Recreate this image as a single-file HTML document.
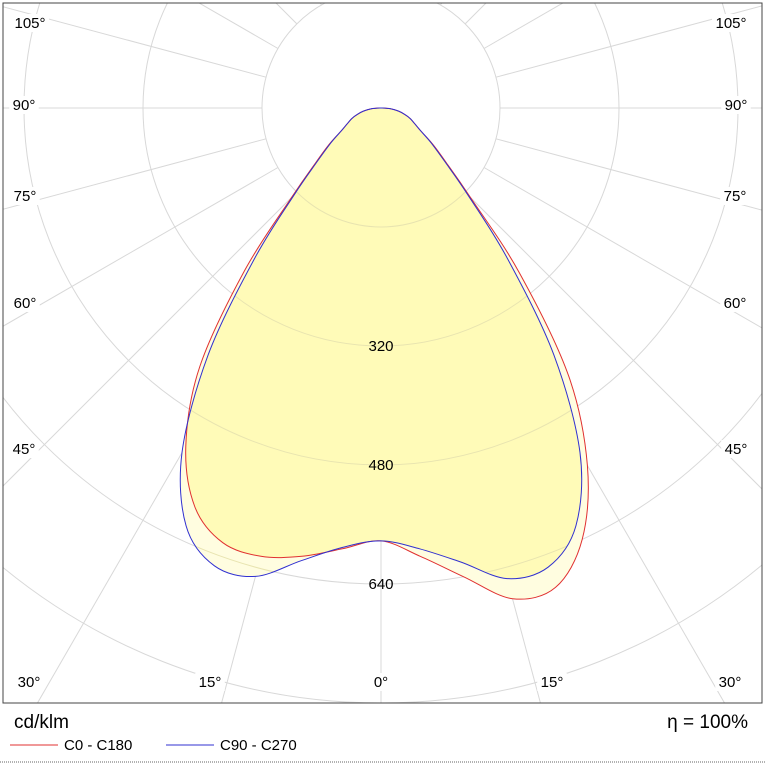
<!DOCTYPE html>
<html><head><meta charset="utf-8"><style>
html,body{margin:0;padding:0;background:#fff;width:765px;height:765px;overflow:hidden}
svg{display:block;font-family:"Liberation Sans",sans-serif}
</style></head><body>
<svg id="chart" width="765" height="765" viewBox="0 0 765 765">
<defs><clipPath id="frameClip"><rect x="3" y="3" width="759" height="700"/></clipPath></defs>
<g id="grid" clip-path="url(#frameClip)"></g>
<g id="fills" clip-path="url(#frameClip)"></g>
<g id="lines" clip-path="url(#frameClip)"></g>
<g id="labels"></g>
<rect x="3" y="3" width="759" height="700" fill="none" stroke="#444" stroke-width="1"/>
<text x="14" y="728" font-size="19" fill="#000">cd/klm</text>
<text x="748" y="728" font-size="19" fill="#000" text-anchor="end">η = 100%</text>
<line x1="10" y1="745" x2="58" y2="745" stroke="#e03030" stroke-width="1"/>
<text x="64" y="750" font-size="15">C0 - C180</text>
<line x1="166" y1="745" x2="214" y2="745" stroke="#3030d0" stroke-width="1"/>
<text x="220" y="750" font-size="15">C90 - C270</text>
<line x1="0" y1="762" x2="765" y2="762" stroke="#666" stroke-width="1" stroke-dasharray="1 1"/>
</svg>
<script>
// gamma angles (deg) and intensities (cd/klm)
const angles = [0,5,10,15,20,25,30,35,40,45,50,55,60,65,70,75,80,85,90];
const c0 = [582,605,640,683,686,640,555,440,290,170,115,85,62,50,42,33,24,13,0];
const c180 = [582,595,612,624,622,592,525,425,285,170,115,85,62,50,42,33,24,13,0];
const c90 = [582,595,620,655,657,620,535,405,265,165,112,83,62,50,42,33,24,13,0];
const c270 = [582,593,618,652,655,620,535,405,265,165,112,83,62,50,42,33,24,13,0];
const ringValues = [160,320,480,640,800,960,1120];
const ringLabels = ["320","480","640"];
const ringLabelValues = [320,480,640];
const cx = 381, cy = 108, scale = 119/160;
const NS = "http://www.w3.org/2000/svg";
function pt(deg, val, side){ const a = deg*Math.PI/180; const r = val*scale; return [cx + side*r*Math.sin(a), cy + r*Math.cos(a)]; }
function mk(tag, attrs, parent){ const e = document.createElementNS(NS, tag); for (const k in attrs) e.setAttribute(k, attrs[k]); parent.appendChild(e); return e; }
const grid = document.getElementById('grid');
ringValues.forEach(v => {
  const c = mk('circle', {cx:cx, cy:cy, r:v*scale, fill:'none', stroke:'#d8d8d8', 'stroke-width':1}, grid);
  
  
});
for (let d = 0; d <= 180; d += 15) {
  [1,-1].forEach(s => {
    const p1 = pt(d, 160, s), p2 = pt(d, 1400, s);
    const l = mk('line', {x1:p1[0], y1:p1[1], x2:p2[0], y2:p2[1], stroke:'#d8d8d8', 'stroke-width':1}, grid);
    
    
  });
}
function pathFor(right, left){
  const pts = [];
  for (let i = angles.length-1; i >= 0; i--) pts.push(pt(angles[i], left[i], -1));
  for (let i = 1; i < angles.length; i++) pts.push(pt(angles[i], right[i], 1));
  let d = 'M' + pts[0][0].toFixed(1) + ',' + pts[0][1].toFixed(1);
  for (let i = 0; i < pts.length-1; i++) {
    const p0 = pts[Math.max(0,i-1)], p1 = pts[i], p2 = pts[i+1], p3 = pts[Math.min(pts.length-1,i+2)];
    const c1 = [p1[0]+(p2[0]-p0[0])/6, p1[1]+(p2[1]-p0[1])/6];
    const c2 = [p2[0]-(p3[0]-p1[0])/6, p2[1]-(p3[1]-p1[1])/6];
    d += 'C' + c1.map(v=>v.toFixed(1)).join(',') + ' ' + c2.map(v=>v.toFixed(1)).join(',') + ' ' + p2[0].toFixed(1) + ',' + p2[1].toFixed(1);
  }
  return d + 'Z';
}
const dA = pathFor(c0, c180), dB = pathFor(c90, c270);
const fills = document.getElementById('fills');
const defs = document.querySelector('defs');
const cp = mk('clipPath', {id:'clipB'}, defs);
mk('path', {d:dB}, cp);
const fa = mk('path', {d:dA, fill:'#fffde0'}, fills);


const fb = mk('path', {d:dB, fill:'#fffde0'}, fills);


const fi = mk('path', {d:dA, fill:'#fffbb8', 'clip-path':'url(#clipB)'}, fills);


ringValues.forEach(v => {
  const c = mk('circle', {cx:cx, cy:cy, r:v*scale, fill:'none', stroke:'#e8e4b0', 'stroke-width':1, 'clip-path':'url(#clipB)'}, fills);
  
  
});
const lines = document.getElementById('lines');
const la = mk('path', {d:dA, fill:'none', stroke:'#e03030', 'stroke-width':1}, lines);


const lb = mk('path', {d:dB, fill:'none', stroke:'#3030d0', 'stroke-width':1}, lines);


const labels = document.getElementById('labels');
const angleLabels = [["105°",30,23],["90°",24,105],["75°",25,196],["60°",25,303],["45°",24,449],["30°",29,682],["15°",210,682],["0°",381,682],["15°",552,682],["30°",730,682],["45°",736,449],["60°",735,303],["75°",735,196],["90°",736,105],["105°",731,23]];
angleLabels.forEach(a => {
  const w = a[0].length*8.5+4;
  const r = mk('rect', {x:a[1]-w/2, y:a[2]-9, width:w, height:18, fill:'#fff'}, labels);
  
  
  const t = mk('text', {x:a[1], y:a[2]+5, 'font-size':15, 'text-anchor':'middle', fill:'#000'}, labels);
  t.textContent = a[0];
  
  
});
ringLabelValues.forEach((v, i) => {
  const t = mk('text', {x:cx, y:cy + v*scale + 5, 'font-size':15, 'text-anchor':'middle', fill:'#000'}, labels);
  t.textContent = ringLabels[i];
  
  
});
</script>
</body></html>
